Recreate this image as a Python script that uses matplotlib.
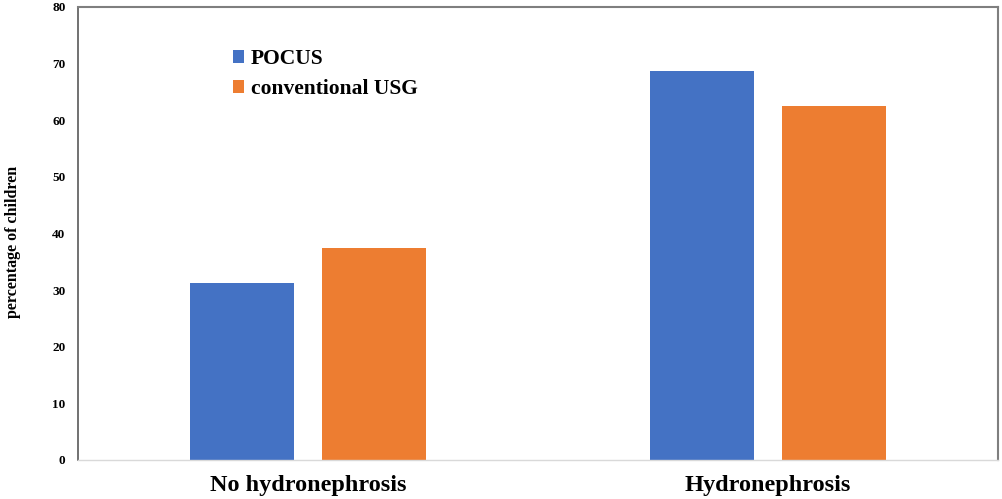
import matplotlib
matplotlib.use("Agg")
import matplotlib.pyplot as plt
import numpy as np

categories = ["No hydronephrosis", "Hydronephrosis"]
series_names = ["POCUS", "conventional USG"]
pocus = [31.25, 68.75]
usg = [37.5, 62.5]
yticks = [0, 10, 20, 30, 40, 50, 60, 70, 80]

blue = "#4472C4"
orange = "#ED7D31"

plt.rcParams['font.family'] = ['Liberation Serif', 'DejaVu Serif']
plt.rcParams['font.weight'] = 'bold'

fig = plt.figure(figsize=(10.02, 4.99), dpi=100)
ax = fig.add_axes([78/1002, (499-460)/499, 920/1002, 453/499])

x = np.arange(len(categories))
w = 0.226
off = 0.143
ax.bar(x - off, pocus, width=w, color=blue, label=series_names[0])
ax.bar(x + off, usg, width=w, color=orange, label=series_names[1])

ax.set_xlim(-0.5, 1.5)
ax.set_ylim(0, 80)
ax.set_yticks(yticks)
ax.set_yticklabels([str(t) for t in yticks], fontsize=9.5, fontweight='bold')
ax.set_xticks(x)
ax.set_xticklabels(categories, fontsize=17.5, fontweight='bold')
ax.tick_params(axis='y', length=0, pad=9)
ax.tick_params(axis='x', length=0, pad=10.5)

ax.set_ylabel("percentage of children", fontsize=11.5, fontweight='bold')
ax.yaxis.set_label_coords(-0.062, 0.482)

ax.spines['left'].set_color('#595959')
ax.spines['left'].set_linewidth(1.2)
ax.spines['top'].set_color('#7f7f7f')
ax.spines['top'].set_linewidth(1.5)
ax.spines['right'].set_color('#7f7f7f')
ax.spines['right'].set_linewidth(1.5)
ax.spines['bottom'].set_color('#d9d9d9')
ax.spines['bottom'].set_linewidth(1.0)

leg = ax.legend(loc='upper left', bbox_to_anchor=(0.168, 0.907), frameon=False,
                prop={'family': ['Liberation Serif'], 'weight': 'bold', 'size': 15.5},
                handlelength=0.55, handleheight=0.55, handletextpad=0.3,
                labelspacing=0.47, borderpad=0, borderaxespad=0)

fig.savefig("out.png", dpi=100)
